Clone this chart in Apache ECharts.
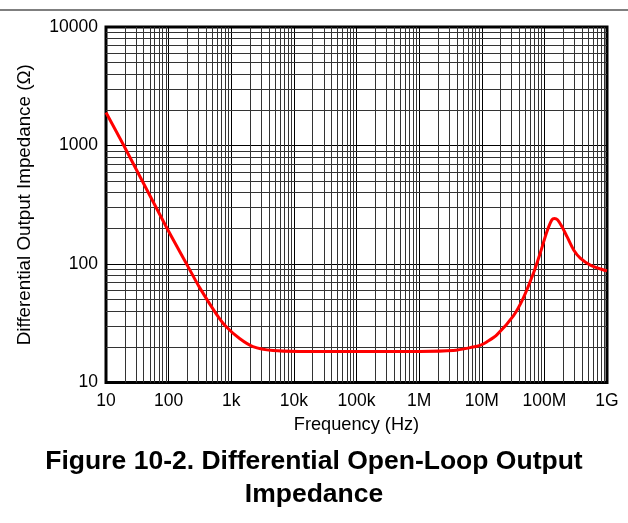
<!DOCTYPE html>
<html>
<head>
<meta charset="utf-8">
<script src="https://cdn.jsdelivr.net/npm/echarts@6/dist/echarts.min.js"></script>
<style>
html,body{margin:0;padding:0;background:#fff;}
#chart{width:628px;height:523px;}
</style>
</head>
<body>
<div id="chart"></div>
<script>
// Frequency (Hz) and differential open-loop output impedance (Ohm)
const freq = [10, 19.6, 91, 202, 311, 575, 832, 1358, 2218, 4634, 12300, 100000, 1000000,
  3500000, 7300000, 9400000, 12000000, 17400000, 32000000, 46000000, 67000000, 86000000,
  110000000, 132000000, 145000000, 162000000, 190000000, 229000000, 292000000, 374000000,
  541000000, 883000000, 1000000000];
const impedance = [1900, 980, 207, 96, 63.5, 38, 29.5, 23.5, 20.1, 18.6, 18.3, 18.3, 18.3,
  18.6, 19.9, 20.6, 22, 25.2, 36.5, 51.5, 83.8, 124,
  188, 236, 242, 236, 207, 171, 132, 112,
  98, 89, 87.5];

const xTickValues = [10, 100, 1000, 1e4, 1e5, 1e6, 1e7, 1e8, 1e9];
const xTickLabels = ['10', '100', '1k', '10k', '100k', '1M', '10M', '100M', '1G'];
const yTickValues = [10, 100, 1000, 10000];
const yTickLabels = ['10', '100', '1000', '10000'];
const minorMultipliers = [2, 3, 4, 5, 6, 7, 8, 9];

const xMinor = [];
for (let d = 0; d < xTickValues.length - 1; d++) {
  for (const m of minorMultipliers) xMinor.push(xTickValues[d] * m);
}
const yMinor = [];
for (let d = 0; d < yTickValues.length - 1; d++) {
  for (const m of minorMultipliers) yMinor.push(yTickValues[d] * m);
}

function lbl(values, labels, v) {
  for (let i = 0; i < values.length; i++) {
    if (Math.abs(Math.log10(v) - Math.log10(values[i])) < 1e-6) return labels[i];
  }
  return '';
}

const font = 'Liberation Sans, Arial, sans-serif';
const chart = echarts.init(document.getElementById('chart'), null, {renderer: 'canvas'});
const minorLine = {color: '#333', width: 1, type: 'solid'};

chart.setOption({
  animation: false,
  backgroundColor: '#fff',
  title: {
    text: 'Figure 10-2. Differential Open-Loop Output\nImpedance',
    left: 'center',
    top: 440,
    textStyle: {fontFamily: font, fontSize: 26.5, fontWeight: 'bold', color: '#000', lineHeight: 33}
  },
  graphic: [{
    type: 'line', shape: {x1: 0, y1: 10, x2: 628, y2: 10},
    style: {stroke: '#555', lineWidth: 1.5}, silent: true
  }],
  grid: {
    left: 106, top: 27, right: 21, bottom: 140.5,
    show: true, borderColor: '#000', borderWidth: 3, backgroundColor: 'transparent', z: 5
  },
  xAxis: {
    type: 'log', logBase: 10, min: 10, max: 1e9,
    name: 'Frequency (Hz)', nameLocation: 'middle', nameGap: 33,
    nameTextStyle: {fontFamily: font, fontSize: 18.2, color: '#000'},
    axisLine: {show: false},
    axisTick: {show: false},
    axisLabel: {
      fontFamily: font, fontSize: 17.5, color: '#000', margin: 10,
      formatter: v => lbl(xTickValues, xTickLabels, v)
    },
    splitLine: {show: true, lineStyle: {color: '#000', width: 1}}
  },
  yAxis: {
    type: 'log', logBase: 10, min: 10, max: 10000,
    name: 'Differential Output Impedance (Ω)', nameLocation: 'middle', nameGap: 72,
    nameTextStyle: {fontFamily: font, fontSize: 18.8, color: '#000'},
    axisLine: {show: false},
    axisTick: {show: false},
    axisLabel: {
      fontFamily: font, fontSize: 17.5, color: '#000', margin: 8,
      formatter: v => lbl(yTickValues, yTickLabels, v)
    },
    splitLine: {show: true, lineStyle: {color: '#000', width: 1}}
  },
  series: [
    {
      type: 'line', data: [], silent: true,
      markLine: {
        silent: true, symbol: 'none', animation: false,
        label: {show: false},
        lineStyle: minorLine,
        data: xMinor.map(v => ({xAxis: v})).concat(yMinor.map(v => ({yAxis: v})))
      }
    },
    {
      type: 'line',
      data: freq.map((f, i) => [f, impedance[i]]),
      smooth: 0.3,
      showSymbol: false,
      lineStyle: {color: '#ff0000', width: 3},
      z: 10
    }
  ]
});
</script>
</body>
</html>
